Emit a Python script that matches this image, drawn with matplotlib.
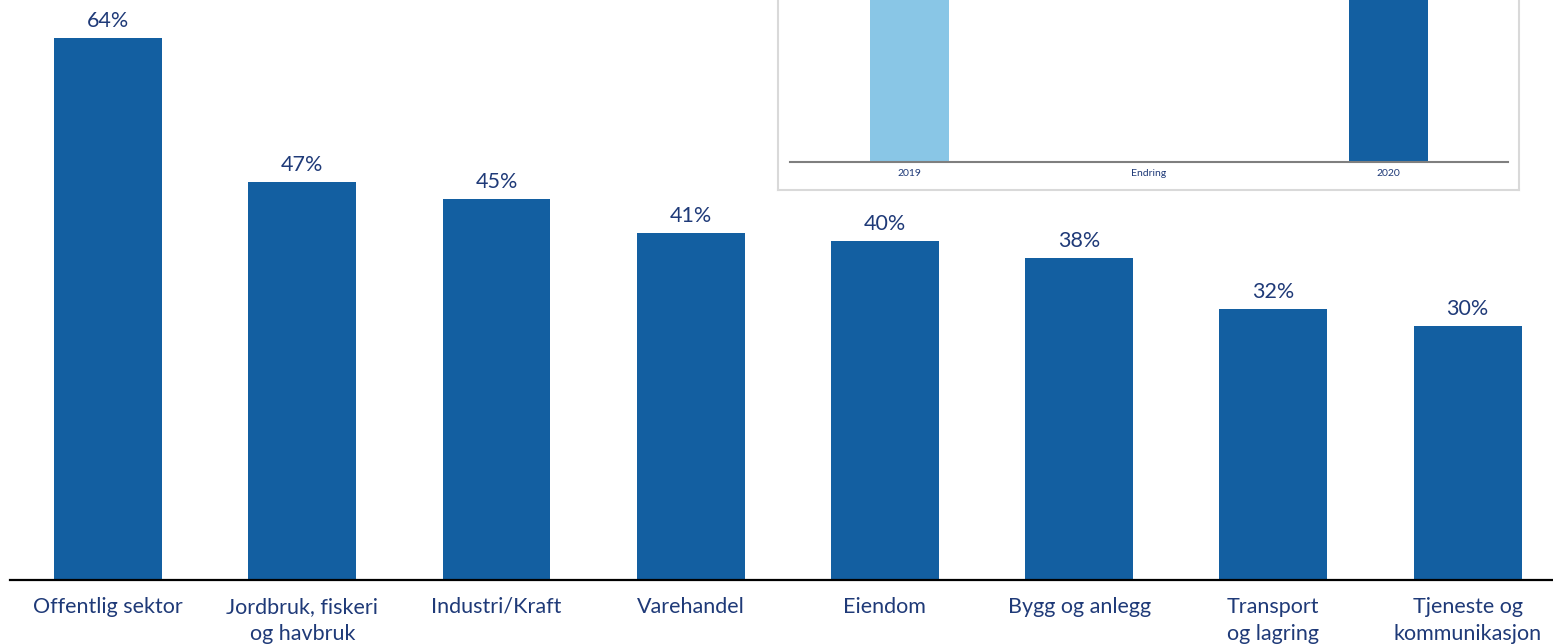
import matplotlib.pyplot as plt
import numpy as np

plt.rcParams['font.family'] = ['Lato', 'DejaVu Sans']

sectors = ['Offentlig sektor', 'Jordbruk, fiskeri\nog havbruk', 'Industri/Kraft', 'Varehandel',
           'Eiendom', 'Bygg og anlegg', 'Transport\nog lagring', 'Tjeneste og\nkommunikasjon']
shares = [64, 47, 45, 41, 40, 38, 32, 30]

# inset (clipped at top in the original)
inset_labels = ['2019', 'Endring', '2020']
inset_start = [43, 0, 45]
inset_change = 2

BAR = '#135FA1'
LIGHT = '#89C6E6'
TEXT = '#1f3a78'

W, H = 1553, 644
fig = plt.figure(figsize=(W / 100, H / 100), dpi=100)

# main chart
ax = fig.add_axes([10 / W, 1 - 580 / H, 1 - 10 / W, 580 / H])
x = np.arange(len(sectors))
bars = ax.bar(x, shares, width=0.556, color=BAR)
for b, v in zip(bars, shares):
    ax.annotate(f'{v}%', (b.get_x() + b.get_width() / 2, v), xytext=(0, 5),
                textcoords='offset points', ha='center', va='bottom',
                fontsize=15.5, color=TEXT)
ax.set_xlim(-0.505, 7.44)
ax.set_ylim(0, 68.5)
ax.set_xticks(x)
ax.set_xticklabels(sectors, fontsize=15.5, color=TEXT, linespacing=1.45)
ax.tick_params(axis='x', length=0, pad=12)
ax.set_yticks([])
for s in ['top', 'right', 'left']:
    ax.spines[s].set_visible(False)
ax.spines['bottom'].set_linewidth(1.6)
ax.spines['bottom'].set_color('black')

# inset frame
box = fig.add_axes([778 / W, 1 - 190 / H, (1519 - 778) / W, 230 / H])
box.set_xticks([])
box.set_yticks([])
for s in box.spines.values():
    s.set_color('#d9d9d9')
    s.set_linewidth(1.5)

# inset chart
ins = fig.add_axes([790 / W, 1 - 162 / H, (1508 - 790) / W, 170 / H])
ins.patch.set_alpha(0)
xi = np.arange(len(inset_labels))
ins.bar(xi[0], inset_start[0], width=0.33, color=LIGHT)
ins.bar(xi[1], inset_change, bottom=inset_start[0], width=0.33, color='white')
ins.bar(xi[2], inset_start[2], width=0.33, color=BAR)
ins.set_xlim(-0.5, 2.5)
ins.set_ylim(0, 30)
ins.set_xticks(xi)
ins.set_xticklabels(inset_labels, fontsize=7.5, color=TEXT)
ins.tick_params(axis='x', length=0, pad=5)
ins.set_yticks([])
for s in ['top', 'right', 'left']:
    ins.spines[s].set_visible(False)
ins.spines['bottom'].set_color('#7f7f7f')
ins.spines['bottom'].set_linewidth(1.5)

fig.savefig('out.png', dpi=100)
